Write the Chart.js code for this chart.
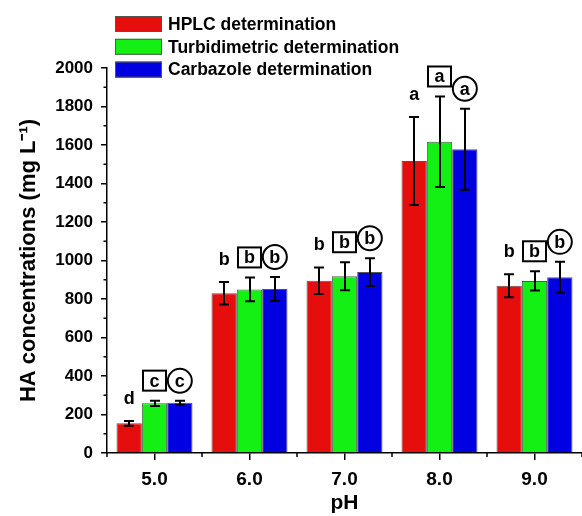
<!DOCTYPE html>
<html>
<head>
<meta charset="utf-8">
<script src="https://cdn.jsdelivr.net/npm/chart.js@4.4.0/dist/chart.umd.min.js"></script>
<style>
  html, body { margin: 0; padding: 0; background: #fff; }
  #chart { display: block; }
</style>
</head>
<body>
<canvas id="chart" width="582" height="516"></canvas>
<script>
// values (mg L-1), mean and +/- error
const phLabels = ["5.0", "6.0", "7.0", "8.0", "9.0"];
const hplc = [154, 830, 895, 1517, 869];
const hplcErr = [12, 58, 69, 229, 60];
const turbidimetric = [258, 850, 918, 1617, 894];
const turbidimetricErr = [14, 62, 73, 235, 50];
const carbazole = [261, 852, 940, 1578, 913];
const carbazoleErr = [10, 62, 72, 210, 80];

// significance letters above each bar
const hplcLetters = ["d", "b", "b", "a", "b"];
const turbLetters = ["c", "b", "b", "a", "b"];
const carbLetters = ["c", "b", "b", "a", "b"];

const FONT = "'Liberation Sans', Arial, sans-serif";
Chart.defaults.font.family = FONT;
Chart.defaults.color = "#000";

const errorBars = {
    id: "errorBars",
    afterDatasetsDraw(chart) {
        const { ctx } = chart;
        const y = chart.scales.y;
        ctx.save();
        ctx.strokeStyle = "#000";
        ctx.lineWidth = 2;
        chart.data.datasets.forEach((ds, i) => {
            chart.getDatasetMeta(i).data.forEach((bar, j) => {
                const top = y.getPixelForValue(ds.data[j] + ds.errors[j]);
                const bot = y.getPixelForValue(ds.data[j] - ds.errors[j]);
                const x = Math.round(bar.x);
                ctx.beginPath();
                ctx.moveTo(x, top);
                ctx.lineTo(x, bot);
                ctx.moveTo(x - 5, top);
                ctx.lineTo(x + 5, top);
                ctx.moveTo(x - 5, bot);
                ctx.lineTo(x + 5, bot);
                ctx.stroke();
            });
        });
        ctx.restore();
    },
};

const sigLetters = {
    id: "sigLetters",
    afterDatasetsDraw(chart) {
        const { ctx } = chart;
        const y = chart.scales.y;
        ctx.save();
        ctx.font = "bold 18px " + FONT;
        ctx.textAlign = "center";
        ctx.textBaseline = "middle";
        ctx.fillStyle = "#000";
        ctx.strokeStyle = "#000";
        ctx.lineWidth = 2;
        chart.data.datasets.forEach((ds, i) => {
            chart.getDatasetMeta(i).data.forEach((bar, j) => {
                const top = y.getPixelForValue(ds.data[j] + ds.errors[j]);
                const cy = top - (ds.mark === "plain" ? 23 : 20);
                const x = bar.x;
                ctx.fillText(ds.letters[j], x, cy + 1);
                if (ds.mark === "box") {
                    ctx.strokeRect(x - 11.5, cy - 10, 23, 20);
                } else if (ds.mark === "circle") {
                    ctx.beginPath();
                    ctx.arc(x, cy, 12, 0, Math.PI * 2);
                    ctx.stroke();
                }
            });
        });
        ctx.restore();
    },
};

const minorTicks = {
    id: "minorTicks",
    afterDraw(chart) {
        const { ctx, chartArea: a } = chart;
        const y = chart.scales.y;
        ctx.save();
        ctx.strokeStyle = "#000";
        ctx.lineWidth = 1.5;
        ctx.beginPath();
        for (let v = 100; v < 2000; v += 200) {
            const py = y.getPixelForValue(v);
            ctx.moveTo(a.left - 3.5, py);
            ctx.lineTo(a.left, py);
        }
        const step = (a.right - a.left) / phLabels.length;
        for (let i = 0; i <= phLabels.length; i++) {
            const px = a.left + i * step;
            ctx.moveTo(px, a.bottom);
            ctx.lineTo(px, a.bottom + 4);
        }
        ctx.stroke();
        ctx.restore();
    },
};

const boxLegend = {
    id: "boxLegend",
    afterDraw(chart) {
        const { ctx } = chart;
        ctx.save();
        ctx.font = "bold 17.5px " + FONT;
        ctx.textAlign = "left";
        ctx.textBaseline = "middle";
        chart.data.datasets.forEach((ds, i) => {
            const cy = 24 + i * 22.8;
            ctx.fillStyle = ds.backgroundColor;
            ctx.fillRect(115, cy - 8, 47, 16);
            ctx.strokeStyle = "#555";
            ctx.lineWidth = 1;
            ctx.strokeRect(115.5, cy - 7.5, 46, 15);
            ctx.fillStyle = "#000";
            ctx.fillText(ds.label, 168, cy + 1);
        });
        ctx.restore();
    },
};

new Chart(document.getElementById("chart"), {
    type: "bar",
    data: {
        labels: phLabels,
        datasets: [
            {
                label: "HPLC determination",
                data: hplc,
                errors: hplcErr,
                letters: hplcLetters,
                mark: "plain",
                backgroundColor: "#e60d0d",
            },
            {
                label: "Turbidimetric determination",
                data: turbidimetric,
                errors: turbidimetricErr,
                letters: turbLetters,
                mark: "box",
                backgroundColor: "#14f014",
            },
            {
                label: "Carbazole determination",
                data: carbazole,
                errors: carbazoleErr,
                letters: carbLetters,
                mark: "circle",
                backgroundColor: "#0000e0",
            },
        ],
    },
    options: {
        responsive: false,
        animation: false,
        layout: { padding: { top: 68, right: 0, bottom: 0, left: 0 } },
        datasets: {
            bar: {
                categoryPercentage: 0.8,
                barPercentage: 1.0,
                borderColor: "#555",
                borderWidth: 1,
            },
        },
        plugins: {
            legend: { display: false },
            tooltip: { enabled: false },
        },
        scales: {
            x: {
                grid: {
                    drawOnChartArea: false,
                    offset: false,
                    color: "#000",
                    lineWidth: 1.5,
                    tickLength: 7,
                },
                border: { color: "#000", width: 1.5 },
                ticks: { font: { size: 19, weight: "bold" }, color: "#000", padding: 8 },
                title: {
                    display: true,
                    text: "pH",
                    font: { size: 21, weight: "bold" },
                    color: "#000",
                    padding: { top: 0, bottom: 0 },
                },
                afterFit(scale) {
                    scale.height = 63;
                },
            },
            y: {
                min: 0,
                max: 2000,
                grid: {
                    drawOnChartArea: false,
                    color: "#000",
                    lineWidth: 1.5,
                    tickLength: 6,
                },
                border: { color: "#000", width: 1.5 },
                ticks: {
                    stepSize: 200,
                    font: { size: 17, weight: "bold" },
                    color: "#000",
                    padding: 8,
                    callback: (v) => String(v),
                },
                title: {
                    display: true,
                    text: "HA concentrations (mg L⁻¹)",
                    font: { size: 22, weight: "bold" },
                    color: "#000",
                    padding: { top: 16, bottom: 0 },
                },
                afterFit(scale) {
                    scale.width = 107;
                },
            },
        },
    },
    plugins: [errorBars, sigLetters, minorTicks, boxLegend],
});
</script>
</body>
</html>
